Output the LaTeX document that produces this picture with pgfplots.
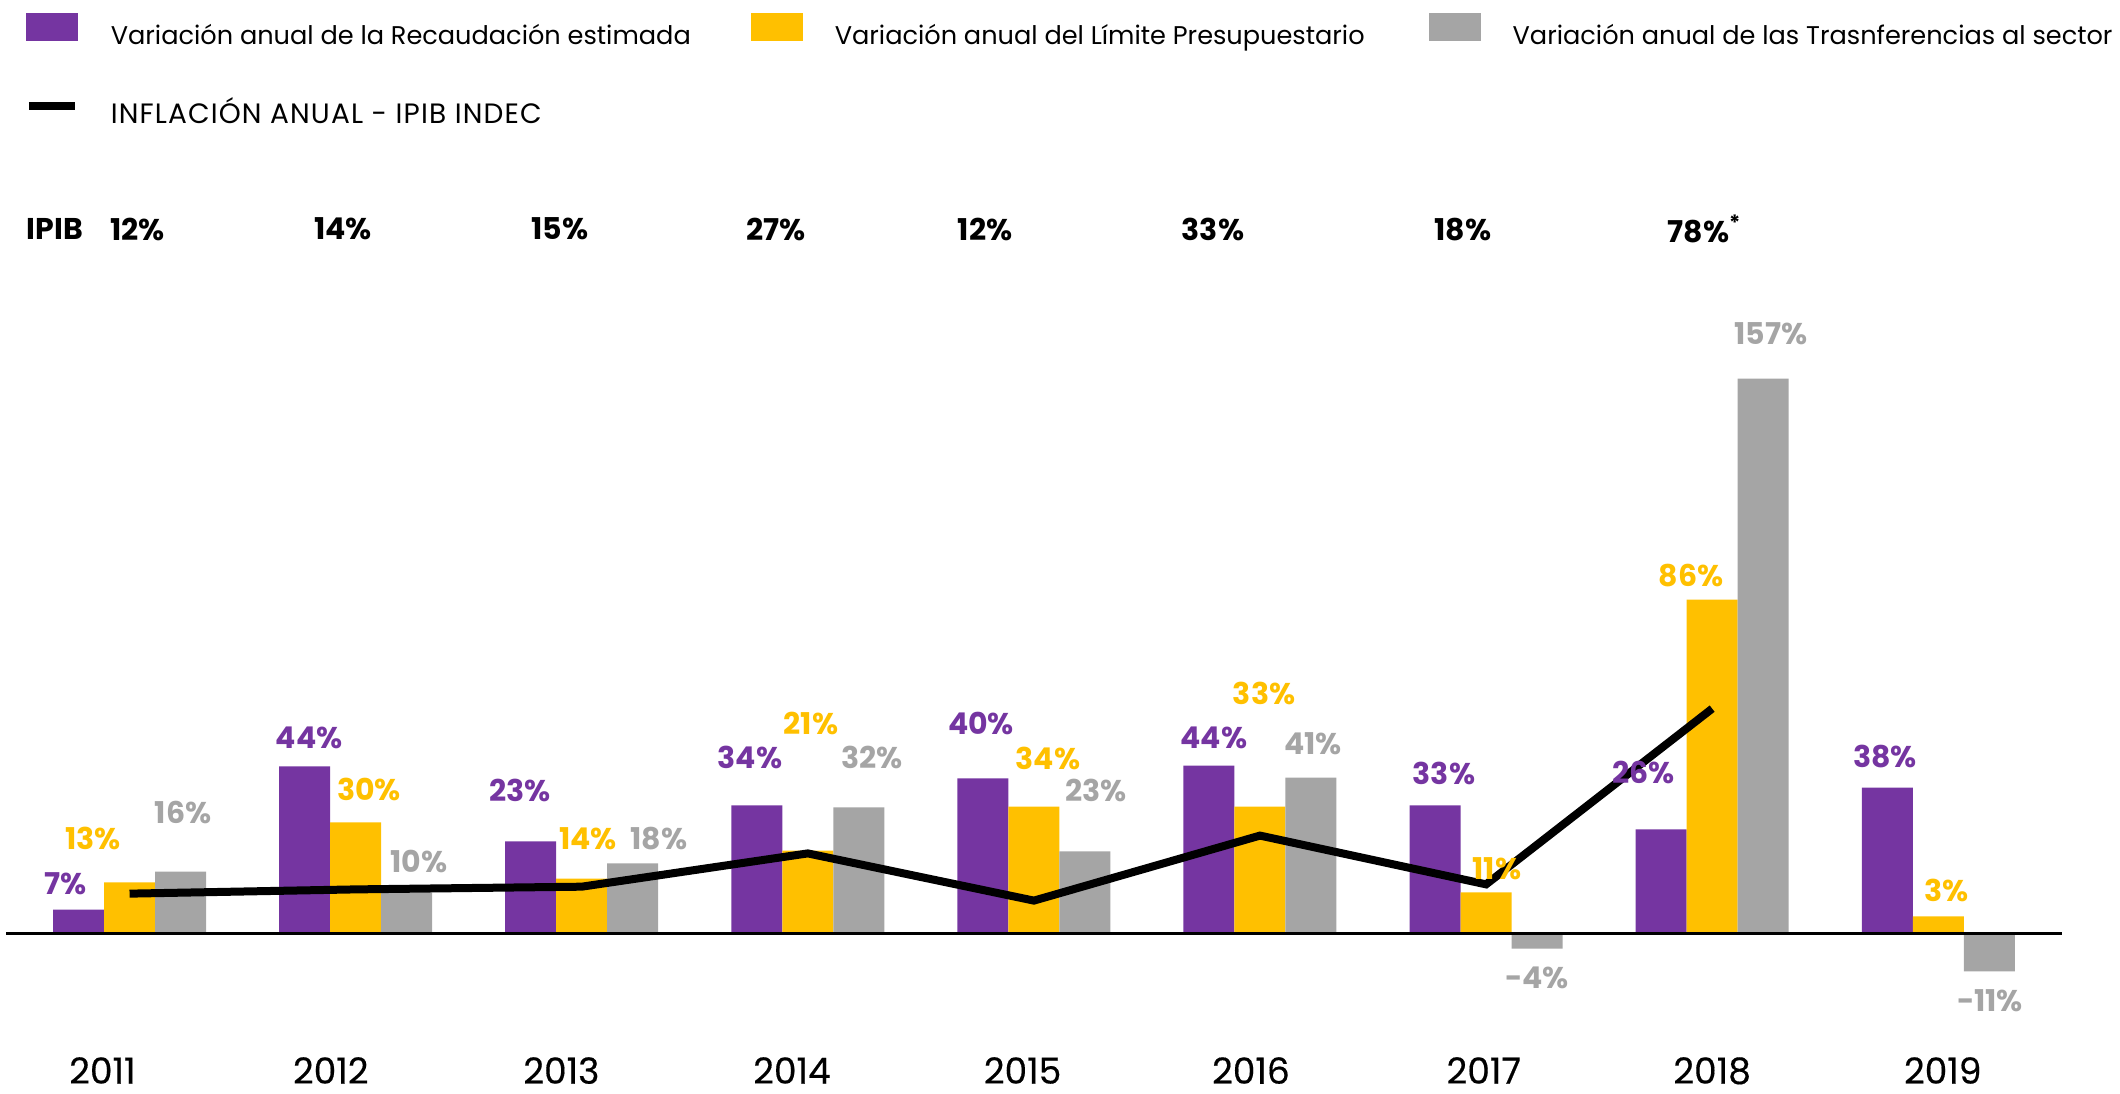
\documentclass[border=0pt]{standalone}
\usepackage{fontspec}
\setmainfont{Poppins}
\usepackage{pgfplots}
\usepackage{pgfplotstable}
\pgfplotsset{compat=1.18}

\definecolor{cPur}{HTML}{7535A1}
\definecolor{cYel}{HTML}{FFC000}
\definecolor{cGry}{HTML}{A5A5A5}

% visual bar heights (percent units)
\pgfplotstableread{
x rec lim tra
0 6.2 13.2 16.0
1 43.2 28.7 10.6
2 23.8 14.2 18.1
3 33.1 21.4 32.6
4 40.1 32.8 21.2
5 43.4 32.8 40.3
6 33.1 10.6 -3.9
7 26.9 86.3 143.4
8 37.7 4.4 -9.8
}\bars

\pgfplotstableread{
x v
0 10.3
1 11.4
2 12.1
3 20.7
4 8.5
5 25.3
6 12.7
7 58.1
}\ipibline

\pgfplotstableread{
x y m
-0.285 12.9 7
0.794 50.6 44
1.727 37.0 23
2.744 45.5 34
3.766 54.3 40
4.796 50.6 44
5.814 41.3 33
6.698 41.6 26
7.764 45.7 38
}\labPur

\pgfplotstableread{
x y m
-0.161 24.5 13
1.059 37.2 30
2.028 24.5 14
3.014 54.3 21
4.062 45.2 34
5.018 62.0 33
6.048 16.8 11
6.906 92.5 86
8.038 11.1 3
}\labYel

\pgfplotstableread{
x y m
0.237 31.3 16
1.280 18.6 10
2.342 24.5 18
3.284 45.5 32
4.275 37.0 23
5.234 49.1 41
6.225 -11.4 -4
7.260 155.0 157
8.229 -17.3 -11
}\labGry

\pgfplotstableread{
x y m
-0.33 182 IPIB
0.035 182 12\%
0.944 182 14\%
1.904 182 15\%
2.859 182 27\%
3.784 182 12\%
4.792 182 33\%
5.898 182 18\%
6.968 182 {78\%\textsuperscript{*}}
}\labIpib

\begin{document}
\begin{tikzpicture}
\begin{axis}[
  scale only axis, width=530pt, height=262.5pt,
  xmin=-0.573, xmax=8.804, ymin=-30.2, ymax=241.1,
  axis line style={draw=none},
  ytick=\empty,
  xtick={-0.12,0.89,1.91,2.93,3.95,4.96,5.99,7.0,8.02},
  xticklabels={2011,2012,2013,2014,2015,2016,2017,2018,2019},
  major tick length=0pt,
  xticklabel style={font=\fontsize{9}{10}\selectfont\addfontfeature{FakeBold=0.4}, anchor=north, inner sep=0pt, text depth=2.5pt, yshift=-1.5pt},
  clip=false,
  legend columns=3,
  legend cell align=left,
  legend style={at={(rel axis cs:0,1)}, anchor=north west, xshift=6pt, yshift=-3pt,
    draw=none, fill=none, inner sep=0pt, row sep=12.25pt,
    font=\fontsize{6.4}{8}\selectfont,
    nodes={inner sep=0pt, text height=6pt, text depth=1.5pt},
    /tikz/every odd column/.append style={column sep=8pt},
    /tikz/column 2/.append style={column sep=15pt},
    /tikz/column 4/.append style={column sep=16pt}},
]
\addplot[ybar, bar width=12.75pt, bar shift=-12.75pt, fill=cPur, draw=none,
  legend image code/.code={\fill[cPur] (0pt,-1.5pt) rectangle (13pt,5.5pt);}]
  table[x=x, y=rec]{\bars};
\addplot[ybar, bar width=12.75pt, bar shift=0pt, fill=cYel, draw=none,
  legend image code/.code={\fill[cYel] (0pt,-1.5pt) rectangle (13pt,5.5pt);}]
  table[x=x, y=lim]{\bars};
\addplot[ybar, bar width=12.75pt, bar shift=12.75pt, fill=cGry, draw=none,
  legend image code/.code={\fill[cGry] (0pt,-1.5pt) rectangle (13pt,5.5pt);}]
  table[x=x, y=tra]{\bars};

\addplot[black, line width=0.67pt, mark=none, forget plot] coordinates {(-0.546,0) (8.547,0)};

\addplot[only marks, mark=none, forget plot,
  point meta=explicit symbolic, nodes near coords={\pgfplotspointmeta\%},
  nodes near coords style={anchor=center, inner sep=0pt, text=cPur, font=\bfseries\fontsize{7.5}{9}\selectfont}]
  table[x=x, y=y, meta=m]{\labPur};
\addplot[only marks, mark=none, forget plot,
  point meta=explicit symbolic, nodes near coords={\pgfplotspointmeta\%},
  nodes near coords style={anchor=center, inner sep=0pt, text=cYel, font=\bfseries\fontsize{7.5}{9}\selectfont}]
  table[x=x, y=y, meta=m]{\labYel};
\addplot[only marks, mark=none, forget plot,
  point meta=explicit symbolic, nodes near coords={\pgfplotspointmeta\%},
  nodes near coords style={anchor=center, inner sep=0pt, text=cGry, font=\bfseries\fontsize{7.5}{9}\selectfont}]
  table[x=x, y=y, meta=m]{\labGry};
\addplot[only marks, mark=none, forget plot,
  point meta=explicit symbolic, nodes near coords={\pgfplotspointmeta},
  nodes near coords style={anchor=center, inner sep=0pt, text=black, font=\bfseries\fontsize{7.5}{9}\selectfont}]
  table[x=x, y=y, meta=m]{\labIpib};

\addplot[black, line width=2pt, mark=none,
  legend image code/.code={\draw[black, line width=2pt] (0.75pt,2pt) -- (12.25pt,2pt);}]
  table[x=x, y=v]{\ipibline};

\legend{Variación anual de la Recaudación estimada, Variación anual del Límite Presupuestario, Variación anual de las Trasnferencias al sector, {\fontsize{7}{8}\selectfont\addfontfeature{LetterSpace=4}INFLACIÓN ANUAL - IPIB INDEC}}
\end{axis}
\end{tikzpicture}
\end{document}
